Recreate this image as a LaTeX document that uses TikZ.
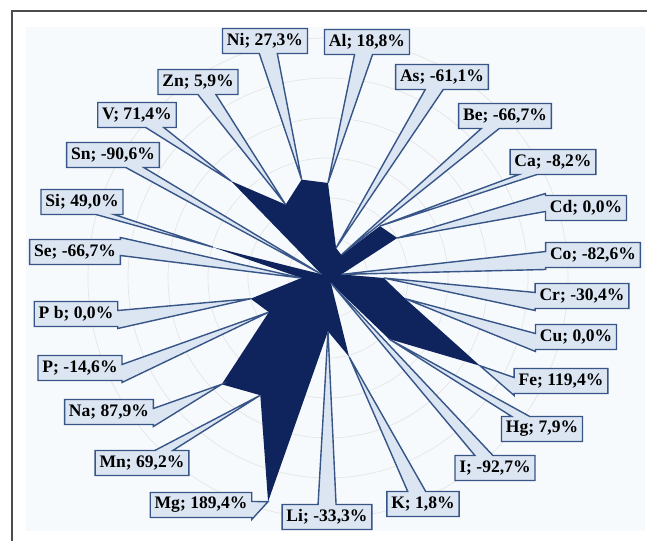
\documentclass[tikz,border=0pt]{standalone}
\usepackage{fontspec}
\setmainfont{Liberation Serif}
\usepackage{xcolor}
\usepackage{tikz}
\usetikzlibrary{calc,shapes.callouts}

\definecolor{navy}{RGB}{15,35,92}
\definecolor{calloutfill}{RGB}{220,230,243}
\definecolor{calloutdraw}{RGB}{55,85,135}
\definecolor{plotbg}{RGB}{247,250,253}

\begin{document}
\begin{tikzpicture}[
  x=0.02cm, y=-0.02cm,
  lbl/.style={rectangle callout, draw=calloutdraw, line width=0.8pt, fill=calloutfill,
              font=\fontsize{10}{12}\selectfont\bfseries, inner sep=2.5pt,
              minimum height=0.5cm, callout pointer width=0.36cm},
  ring/.style={draw=gray!20, line width=0.4pt},
  radar/.style={fill=navy}
]
\useasboundingbox (0,0) rectangle (647,541);

% Frame and plot area
\fill[plotbg] (26,27) rectangle (645,531);
\draw[black!70, line width=1.2pt] (647,11) -- (12,11) -- (12,541);

% Grid rings
\coordinate (ctr) at (328,278);
\foreach \r in {40,80,...,240}
  \draw[ring] (ctr) circle[radius=\r];

% Data points (radius 0 at -100 %)
\foreach \el/\val [count=\i from 0] in {Al/18.8, As/-61.1, Be/-66.7, Ca/-8.2, Cd/0,
    Co/-82.6, Cr/-30.4, Cu/0, Fe/119.4, Hg/7.9, I/-92.7, K/1.8, Li/-33.3, Mg/189.4,
    Mn/69.2, Na/87.9, P/-14.6, Pb/0, Se/-66.7, Si/49.0, Sn/-90.6, V/71.4, Zn/5.9, Ni/27.3}
  \coordinate (v-\el) at ($(ctr)+({15*\i-90}:{0.8*(\val+100)})$);

% Radar area
\fill[radar] (v-Al) \foreach \el in {As,Be,Ca,Cd,Co,Cr,Cu,Fe,Hg,I,K,Li,Mg,Mn,Na,P,Pb,Se,Si,Sn,V,Zn,Ni} { -- (v-\el) } -- cycle;

% Labels, right half
\node[lbl, callout absolute pointer={(v-Al)}] (al) at (367,42) {Al; 18,8\%};
\node[lbl, callout absolute pointer={(v-As)}] (as) at (442,77) {As; -61,1\%};
\node[lbl, callout absolute pointer={(v-Be)}] (be) at (505,116) {Be; -66,7\%};
\node[lbl, callout absolute pointer={(v-Ca)}] (ca) at (553,162) {Ca; -8,2\%};
\node[lbl, callout absolute pointer={(v-Cd)}] (cd) at (586,208) {Cd; 0,0\%};
\node[lbl, callout absolute pointer={(v-Co)}] (co) at (593,255) {Co; -82,6\%};
\node[lbl, callout absolute pointer={(v-Cr)}] (cr) at (582,296) {Cr; -30,4\%};
\node[lbl, callout absolute pointer={(v-Cu)}] (cu) at (576,337) {Cu; 0,0\%};
\node[lbl, callout absolute pointer={(v-Fe)}] (fe) at (561,381) {Fe; 119,4\%};
\node[lbl, callout absolute pointer={(v-Hg)}] (hg) at (542,429) {Hg; 7,9\%};
\node[lbl, callout absolute pointer={(v-I)}] (i) at (495,468) {I; -92,7\%};
\node[lbl, callout absolute pointer={(v-K)}] (k) at (423,504) {K; 1,8\%};

% Labels, left half
\node[lbl, callout absolute pointer={(v-Li)}] (li) at (327,517) {Li; -33,3\%};
\node[lbl, callout absolute pointer={(v-Mg)}] (mg) at (201,505) {Mg; 189,4\%};
\node[lbl, callout absolute pointer={(v-Mn)}] (mn) at (142,463) {Mn; 69,2\%};
\node[lbl, callout absolute pointer={(v-Na)}] (na) at (109,412) {Na; 87,9\%};
\node[lbl, callout absolute pointer={(v-P)}] (p) at (80,368) {P; -14,6\%};
\node[lbl, callout absolute pointer={(v-Pb)}] (pb) at (76,314) {P b; 0,0\%};
\node[lbl, callout absolute pointer={(v-Se)}] (se) at (75,252) {Se; -66,7\%};
\node[lbl, callout absolute pointer={(v-Si)}] (si) at (82,202) {Si; 49,0\%};
\node[lbl, callout absolute pointer={(v-Sn)}] (sn) at (113,155) {Sn; -90,6\%};
\node[lbl, callout absolute pointer={(v-V)}] (v) at (137,115) {V; 71,4\%};
\node[lbl, callout absolute pointer={(v-Zn)}] (zn) at (198,82) {Zn; 5,9\%};
\node[lbl, callout absolute pointer={(v-Ni)}] (ni) at (265,41) {Ni; 27,3\%};

\end{tikzpicture}
\end{document}
